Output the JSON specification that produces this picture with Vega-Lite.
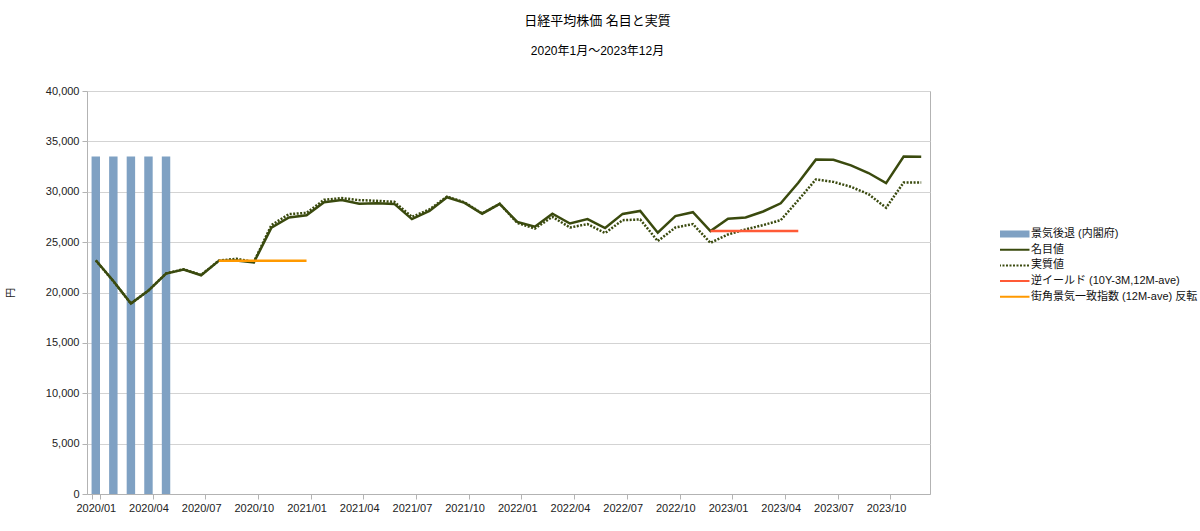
{
  "$schema": "https://vega.github.io/schema/vega-lite/v6.json",
  "width": 843,
  "height": 403,
  "autosize": {"type": "none"},
  "padding": {"left": 87, "top": 91, "right": 270, "bottom": 37},
  "title": {
    "text": "日経平均株価  名目と実質",
    "subtitle": "2020年1月〜2023年12月",
    "anchor": "middle",
    "frame": "bounds",
    "dx": -4,
    "font": "Liberation Sans, Noto Sans CJK JP",
    "subtitleFont": "Liberation Sans, Noto Sans CJK JP",
    "fontSize": 13,
    "fontWeight": "normal",
    "subtitleFontSize": 12,
    "subtitlePadding": 18,
    "offset": 28,
    "color": "#000",
    "subtitleColor": "#000"
  },
  "config": {
    "view": {"stroke": "#b3b3b3"},
    "font": "Liberation Sans, Noto Sans CJK JP",
    "axis": {
      "labelFont": "Liberation Sans, Noto Sans CJK JP",
      "labelFontSize": 11,
      "labelColor": "#222",
      "tickColor": "#b3b3b3",
      "domainColor": "#b3b3b3",
      "gridColor": "#d3d3d3",
      "tickSize": 5
    }
  },
  "data": {
    "values": [
      {"month": "2020/01", "series": "景気後退 (内閣府)", "value": 33500},
      {"month": "2020/02", "series": "景気後退 (内閣府)", "value": 33500},
      {"month": "2020/03", "series": "景気後退 (内閣府)", "value": 33500},
      {"month": "2020/04", "series": "景気後退 (内閣府)", "value": 33500},
      {"month": "2020/05", "series": "景気後退 (内閣府)", "value": 33500},

      {"month": "2020/01", "series": "実質値", "value": 23180},
      {"month": "2020/02", "series": "実質値", "value": 21120},
      {"month": "2020/03", "series": "実質値", "value": 18900},
      {"month": "2020/04", "series": "実質値", "value": 20200},
      {"month": "2020/05", "series": "実質値", "value": 21890},
      {"month": "2020/06", "series": "実質値", "value": 22310},
      {"month": "2020/07", "series": "実質値", "value": 21740},
      {"month": "2020/08", "series": "実質値", "value": 23160},
      {"month": "2020/09", "series": "実質値", "value": 23350},
      {"month": "2020/10", "series": "実質値", "value": 23030},
      {"month": "2020/11", "series": "実質値", "value": 26690},
      {"month": "2020/12", "series": "実質値", "value": 27780},
      {"month": "2021/01", "series": "実質値", "value": 27900},
      {"month": "2021/02", "series": "実質値", "value": 29200},
      {"month": "2021/03", "series": "実質値", "value": 29370},
      {"month": "2021/04", "series": "実質値", "value": 29170},
      {"month": "2021/05", "series": "実質値", "value": 29100},
      {"month": "2021/06", "series": "実質値", "value": 29000},
      {"month": "2021/07", "series": "実質値", "value": 27500},
      {"month": "2021/08", "series": "実質値", "value": 28250},
      {"month": "2021/09", "series": "実質値", "value": 29520},
      {"month": "2021/10", "series": "実質値", "value": 28950},
      {"month": "2021/11", "series": "実質値", "value": 27850},
      {"month": "2021/12", "series": "実質値", "value": 28800},
      {"month": "2022/01", "series": "実質値", "value": 26900},
      {"month": "2022/02", "series": "実質値", "value": 26350},
      {"month": "2022/03", "series": "実質値", "value": 27510},
      {"month": "2022/04", "series": "実質値", "value": 26450},
      {"month": "2022/05", "series": "実質値", "value": 26790},
      {"month": "2022/06", "series": "実質値", "value": 25900},
      {"month": "2022/07", "series": "実質値", "value": 27180},
      {"month": "2022/08", "series": "実質値", "value": 27250},
      {"month": "2022/09", "series": "実質値", "value": 25100},
      {"month": "2022/10", "series": "実質値", "value": 26450},
      {"month": "2022/11", "series": "実質値", "value": 26790},
      {"month": "2022/12", "series": "実質値", "value": 24930},
      {"month": "2023/01", "series": "実質値", "value": 25760},
      {"month": "2023/02", "series": "実質値", "value": 26260},
      {"month": "2023/03", "series": "実質値", "value": 26690},
      {"month": "2023/04", "series": "実質値", "value": 27180},
      {"month": "2023/05", "series": "実質値", "value": 29170},
      {"month": "2023/06", "series": "実質値", "value": 31220},
      {"month": "2023/07", "series": "実質値", "value": 30980},
      {"month": "2023/08", "series": "実質値", "value": 30490},
      {"month": "2023/09", "series": "実質値", "value": 29760},
      {"month": "2023/10", "series": "実質値", "value": 28410},
      {"month": "2023/11", "series": "実質値", "value": 30920},
      {"month": "2023/12", "series": "実質値", "value": 30920},

      {"month": "2020/01", "series": "名目値", "value": 23205},
      {"month": "2020/02", "series": "名目値", "value": 21143},
      {"month": "2020/03", "series": "名目値", "value": 18917},
      {"month": "2020/04", "series": "名目値", "value": 20194},
      {"month": "2020/05", "series": "名目値", "value": 21878},
      {"month": "2020/06", "series": "名目値", "value": 22288},
      {"month": "2020/07", "series": "名目値", "value": 21710},
      {"month": "2020/08", "series": "名目値", "value": 23140},
      {"month": "2020/09", "series": "名目値", "value": 23185},
      {"month": "2020/10", "series": "名目値", "value": 22977},
      {"month": "2020/11", "series": "名目値", "value": 26434},
      {"month": "2020/12", "series": "名目値", "value": 27444},
      {"month": "2021/01", "series": "名目値", "value": 27663},
      {"month": "2021/02", "series": "名目値", "value": 28966},
      {"month": "2021/03", "series": "名目値", "value": 29179},
      {"month": "2021/04", "series": "名目値", "value": 28813},
      {"month": "2021/05", "series": "名目値", "value": 28860},
      {"month": "2021/06", "series": "名目値", "value": 28792},
      {"month": "2021/07", "series": "名目値", "value": 27284},
      {"month": "2021/08", "series": "名目値", "value": 28090},
      {"month": "2021/09", "series": "名目値", "value": 29453},
      {"month": "2021/10", "series": "名目値", "value": 28893},
      {"month": "2021/11", "series": "名目値", "value": 27822},
      {"month": "2021/12", "series": "名目値", "value": 28792},
      {"month": "2022/01", "series": "名目値", "value": 27002},
      {"month": "2022/02", "series": "名目値", "value": 26527},
      {"month": "2022/03", "series": "名目値", "value": 27821},
      {"month": "2022/04", "series": "名目値", "value": 26848},
      {"month": "2022/05", "series": "名目値", "value": 27280},
      {"month": "2022/06", "series": "名目値", "value": 26393},
      {"month": "2022/07", "series": "名目値", "value": 27802},
      {"month": "2022/08", "series": "名目値", "value": 28092},
      {"month": "2022/09", "series": "名目値", "value": 25937},
      {"month": "2022/10", "series": "名目値", "value": 27587},
      {"month": "2022/11", "series": "名目値", "value": 27969},
      {"month": "2022/12", "series": "名目値", "value": 26095},
      {"month": "2023/01", "series": "名目値", "value": 27327},
      {"month": "2023/02", "series": "名目値", "value": 27446},
      {"month": "2023/03", "series": "名目値", "value": 28041},
      {"month": "2023/04", "series": "名目値", "value": 28856},
      {"month": "2023/05", "series": "名目値", "value": 30888},
      {"month": "2023/06", "series": "名目値", "value": 33189},
      {"month": "2023/07", "series": "名目値", "value": 33172},
      {"month": "2023/08", "series": "名目値", "value": 32619},
      {"month": "2023/09", "series": "名目値", "value": 31858},
      {"month": "2023/10", "series": "名目値", "value": 30859},
      {"month": "2023/11", "series": "名目値", "value": 33487},
      {"month": "2023/12", "series": "名目値", "value": 33464},

      {"month": "2022/12", "series": "逆イールド (10Y-3M,12M-ave)", "value": 26095},
      {"month": "2023/01", "series": "逆イールド (10Y-3M,12M-ave)", "value": 26095},
      {"month": "2023/02", "series": "逆イールド (10Y-3M,12M-ave)", "value": 26095},
      {"month": "2023/03", "series": "逆イールド (10Y-3M,12M-ave)", "value": 26095},
      {"month": "2023/04", "series": "逆イールド (10Y-3M,12M-ave)", "value": 26095},
      {"month": "2023/05", "series": "逆イールド (10Y-3M,12M-ave)", "value": 26095},

      {"month": "2020/08", "series": "街角景気一致指数 (12M-ave) 反転", "value": 23140},
      {"month": "2020/09", "series": "街角景気一致指数 (12M-ave) 反転", "value": 23140},
      {"month": "2020/10", "series": "街角景気一致指数 (12M-ave) 反転", "value": 23140},
      {"month": "2020/11", "series": "街角景気一致指数 (12M-ave) 反転", "value": 23140},
      {"month": "2020/12", "series": "街角景気一致指数 (12M-ave) 反転", "value": 23140},
      {"month": "2021/01", "series": "街角景気一致指数 (12M-ave) 反転", "value": 23140}
    ]
  },
  "encoding": {
    "x": {
      "field": "month",
      "type": "ordinal",
      "sort": null,
      "scale": {"paddingInner": 0.52, "paddingOuter": 0.26},
      "axis": {
        "title": null,
        "labelAngle": 0,
        "values": ["2020/01", "2020/04", "2020/07", "2020/10", "2021/01", "2021/04", "2021/07", "2021/10", "2022/01", "2022/04", "2022/07", "2022/10", "2023/01", "2023/04", "2023/07", "2023/10"],
        "tickBand": "extent",
        "labelPadding": 3
      }
    },
    "y": {
      "field": "value",
      "type": "quantitative",
      "scale": {"domain": [0, 40000], "nice": false},
      "axis": {
        "title": "円",
        "titleFont": "Noto Sans CJK JP",
        "titleFontSize": 10,
        "titleFontWeight": "normal",
        "titleColor": "#222",
        "titleX": -72,
        "values": [0, 5000, 10000, 15000, 20000, 25000, 30000, 35000, 40000],
        "format": ",d",
        "domain": false,
        "labelPadding": 3
      }
    },
    "color": {
      "field": "series",
      "type": "nominal",
      "scale": {
        "domain": ["景気後退 (内閣府)", "名目値", "実質値", "逆イールド (10Y-3M,12M-ave)", "街角景気一致指数 (12M-ave) 反転"],
        "range": ["#7fa1c3", "#3a4a0e", "#3a4a0e", "#ff5a36", "#ff9900"]
      },
      "legend": {
        "title": null,
        "orient": "none",
        "legendX": 913,
        "legendY": 137,
        "symbolType": "M-4,0H4",
        "symbolSize": 144,
        "clipHeight": 12,
        "rowPadding": 3.7,
        "labelOffset": 20,
        "labelFont": "Liberation Sans, Noto Sans CJK JP",
        "labelFontSize": 11,
        "labelColor": "#111",
        "labelLimit": 300,
        "encode": {
          "symbols": {
            "update": {
              "fill": {"value": "transparent"},
              "stroke": {"scale": "color", "field": "value"},
              "strokeWidth": {"signal": "datum.value == '景気後退 (内閣府)' ? 7 : 2"},
              "strokeDash": {"signal": "datum.value == '実質値' ? [2, 1.5] : [1, 0]"}
            }
          }
        }
      }
    }
  },
  "layer": [
    {
      "transform": [{"filter": "datum.series == '景気後退 (内閣府)'"}],
      "mark": {"type": "bar", "opacity": 1}
    },
    {
      "transform": [{"filter": "datum.series == '実質値'"}],
      "mark": {"type": "line", "strokeWidth": 2.5, "strokeDash": [2, 1.5]}
    },
    {
      "transform": [{"filter": "datum.series == '名目値'"}],
      "mark": {"type": "line", "strokeWidth": 2.5}
    },
    {
      "transform": [{"filter": "datum.series == '逆イールド (10Y-3M,12M-ave)' || datum.series == '街角景気一致指数 (12M-ave) 反転'"}],
      "mark": {"type": "line", "strokeWidth": 2.5},
      "encoding": {"detail": {"field": "series"}}
    }
  ]
}
